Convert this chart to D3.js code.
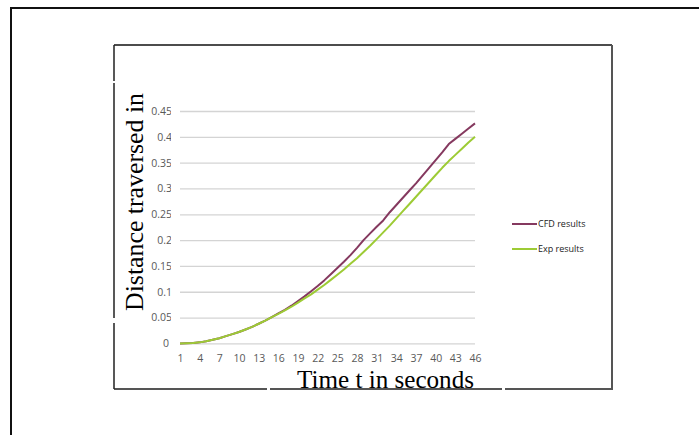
<!DOCTYPE html>
<meta charset="utf-8">
<style>
body { margin: 0; background: #fff; }
</style>
<body>
<script src="https://d3js.org/d3.v7.min.js"></script>
<script>

// time steps 1..46
var times = d3.range(1, 47);

var cfdValues = [0, 0.0005, 0.001, 0.002, 0.004, 0.007, 0.010, 0.014, 0.018, 0.022,
  0.027, 0.032, 0.038, 0.044, 0.051, 0.058, 0.065, 0.073, 0.082, 0.091,
  0.101, 0.111, 0.122, 0.134, 0.146, 0.158, 0.171, 0.185, 0.200, 0.213,
  0.226, 0.238, 0.254, 0.268, 0.282, 0.296, 0.310, 0.325, 0.340, 0.355,
  0.370, 0.386, 0.396, 0.406, 0.416, 0.426];

var expValues = [0, 0.0005, 0.001, 0.002, 0.004, 0.007, 0.010, 0.014, 0.018, 0.022,
  0.027, 0.032, 0.038, 0.044, 0.051, 0.057, 0.064, 0.071, 0.079, 0.087,
  0.095, 0.104, 0.113, 0.123, 0.133, 0.143, 0.154, 0.165, 0.177, 0.189,
  0.202, 0.215, 0.228, 0.242, 0.256, 0.270, 0.284, 0.298, 0.312, 0.326,
  0.340, 0.353, 0.365, 0.377, 0.389, 0.400];

var xTickLabels = [1, 4, 7, 10, 13, 16, 19, 22, 25, 28, 31, 34, 37, 40, 43, 46];
var yTickLabels = [0, 0.05, 0.1, 0.15, 0.2, 0.25, 0.3, 0.35, 0.4, 0.45];

var seriesNames = ["CFD results", "Exp results"];
var seriesColors = ["#85395f", "#9dcb35"];

var svg = d3.select("body").append("svg")
    .attr("width", 699)
    .attr("height", 435);

// outer frame (runs off the right and bottom)
svg.append("path")
    .attr("d", "M11,435V8H699")
    .attr("fill", "none")
    .attr("stroke", "#111")
    .attr("stroke-width", 2);

// inner chart box
svg.append("path")
    .attr("d", "M114,45H612")
    .attr("stroke", "#111").attr("stroke-width", 1.5);
svg.append("path")
    .attr("d", "M612,45V389H114")
    .attr("fill", "none")
    .attr("stroke", "#555").attr("stroke-width", 2);
svg.append("path")
    .attr("d", "M114,45V81M114,83V318M114,323V389")
    .attr("stroke", "#222").attr("stroke-width", 1.5);
// little breaks in the bottom edge
svg.selectAll("rect.gap")
    .data([[267, 3], [502, 3]])
  .enter().append("rect")
    .attr("class", "gap")
    .attr("x", function(d) { return d[0]; })
    .attr("y", 386)
    .attr("width", function(d) { return d[1]; })
    .attr("height", 6)
    .attr("fill", "#fff");

var x = d3.scaleLinear().domain([1, 46]).range([180, 475]);
var y = d3.scaleLinear().domain([0, 0.45]).range([343.4, 111]);

// gridlines
svg.append("g")
    .attr("transform", "translate(180,0)")
    .call(d3.axisLeft(y).tickValues(yTickLabels).tickSize(-295).tickFormat(""))
    .call(function(g) { g.select(".domain").remove(); })
    .selectAll("line")
    .attr("stroke", "#d4d4d4")
    .attr("stroke-width", 1.3);

// y tick labels (clipped on the right like the original)
svg.append("clipPath").attr("id", "yclip")
  .append("rect").attr("x", 120).attr("y", 90).attr("width", 51).attr("height", 270);

var yAxis = svg.append("g")
    .attr("clip-path", "url(#yclip)")
  .append("g")
    .attr("transform", "translate(172,0)")
    .call(d3.axisLeft(y).tickValues(yTickLabels).tickSize(0).tickPadding(0)
      .tickFormat(function(d) { return d === 0 ? "0" : String(d); }));
yAxis.select(".domain").remove();
yAxis.selectAll("text")
    .attr("font-family", "Open Sans")
    .attr("font-size", 10.5)
    .attr("fill", "#595959");
yAxis.selectAll("text").filter(function(d) { return d === 0; })
    .attr("dx", -3);

// x tick labels
var xAxis = svg.append("g")
    .attr("transform", "translate(0,355)")
    .call(d3.axisBottom(x).tickValues(xTickLabels).tickSize(0).tickPadding(0));
xAxis.select(".domain").remove();
xAxis.selectAll("text")
    .attr("font-family", "Open Sans")
    .attr("font-size", 10.5)
    .attr("fill", "#595959");

// series lines
var line = d3.line()
    .x(function(d, i) { return x(times[i]); })
    .y(function(d) { return y(d); });

svg.selectAll("path.series")
    .data([cfdValues, expValues])
  .enter().append("path")
    .attr("class", "series")
    .attr("d", line)
    .attr("fill", "none")
    .attr("stroke", function(d, i) { return seriesColors[i]; })
    .attr("stroke-width", 2)
    .attr("stroke-linejoin", "round");

// legend
var legend = svg.selectAll("g.legend")
    .data(seriesNames)
  .enter().append("g")
    .attr("class", "legend")
    .attr("transform", function(d, i) { return "translate(512," + (224 + i * 25) + ")"; });
legend.append("line")
    .attr("x1", 0).attr("x2", 25)
    .attr("stroke", function(d, i) { return seriesColors[i]; })
    .attr("stroke-width", 2);
legend.append("text")
    .attr("x", 26)
    .attr("dy", "0.35em")
    .attr("font-family", "Open Sans")
    .attr("font-size", 9)
    .attr("fill", "#222")
    .text(function(d) { return d; });

// axis titles
svg.append("text")
    .attr("transform", "translate(143,202) rotate(-90)")
    .attr("text-anchor", "middle")
    .attr("font-family", "Liberation Serif")
    .attr("font-size", 26)
    .attr("textLength", 218)
    .attr("lengthAdjust", "spacingAndGlyphs")
    .attr("fill", "#000")
    .text("Distance traversed  in");

svg.append("text")
    .attr("x", 297)
    .attr("y", 388)
    .attr("font-family", "Liberation Serif")
    .attr("font-size", 26)
    .attr("textLength", 177)
    .attr("lengthAdjust", "spacingAndGlyphs")
    .attr("fill", "#000")
    .text("Time t in seconds");

</script>
